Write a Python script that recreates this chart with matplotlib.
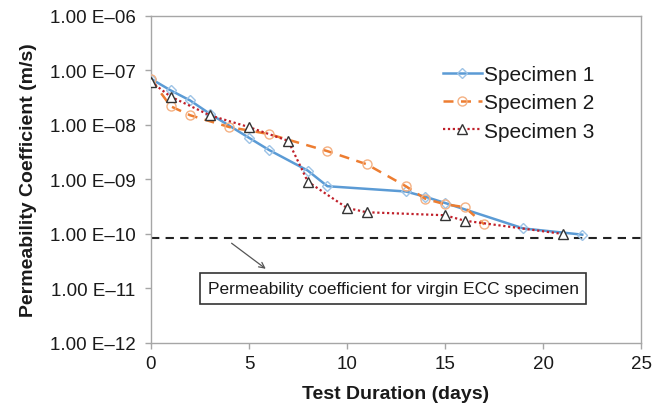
import matplotlib
matplotlib.use("Agg")
import matplotlib.pyplot as plt
from matplotlib.ticker import FuncFormatter, FixedLocator
import numpy as np

# Data
days_s1 = [0, 1, 2, 3, 5, 6, 8, 9, 13, 14, 15, 19, 22]
perm_s1 = [7.0e-8, 4.3e-8, 2.8e-8, 1.6e-8, 5.8e-9, 3.5e-9, 1.45e-9, 7.5e-10,
           6.0e-10, 4.8e-10, 3.7e-10, 1.26e-10, 9.7e-11]
days_s2 = [0, 1, 2, 4, 6, 9, 11, 13, 14, 15, 16, 17]
perm_s2 = [6.9e-8, 2.2e-8, 1.5e-8, 9.1e-9, 6.8e-9, 3.3e-9, 1.9e-9, 7.5e-10,
           4.4e-10, 3.5e-10, 3.1e-10, 1.5e-10]
days_s3 = [0, 1, 3, 5, 7, 8, 10, 11, 15, 16, 21]
perm_s3 = [6.2e-8, 3.3e-8, 1.5e-8, 9.1e-9, 5.1e-9, 9.1e-10, 3.0e-10, 2.5e-10,
           2.2e-10, 1.75e-10, 1.0e-10]
virgin_perm = 8.3e-11
series_labels = ["Specimen 1", "Specimen 2", "Specimen 3"]
annotation_text = "Permeability coefficient for virgin ECC specimen"
x_ticks = [0, 5, 10, 15, 20, 25]
y_ticks = [1e-12, 1e-11, 1e-10, 1e-9, 1e-8, 1e-7, 1e-6]

plt.rcParams['font.family'] = ['Liberation Sans', 'DejaVu Sans']

fig = plt.figure(figsize=(6.65, 4.10), dpi=100)
ax = fig.add_axes([0.227, 0.161, 0.737, 0.798])

ax.plot(days_s1, perm_s1, color='#5B9BD5', lw=1.8, ls='-', marker='D', ms=5,
        mfc='none', mec='#9DC3E6', mew=1.0, label=series_labels[0], zorder=3)
ax.plot(days_s2, perm_s2, color='#ED7D31', lw=1.8, ls=(0, (4, 3)), marker='o', ms=6.5,
        mfc='none', mec='#F4B183', mew=1.0, label=series_labels[1], zorder=3)
ax.plot(days_s3, perm_s3, color='#C0202A', lw=1.6, ls=(0, (1, 1.2)), marker='^', ms=6.5,
        mfc='white', mec='#333333', mew=1.0, label=series_labels[2], zorder=4)

ax.axhline(virgin_perm, color='#222222', lw=1.5, ls=(0, (4, 3)), zorder=2)

ax.set_yscale('log')
ax.set_xlim(0, 25)
ax.set_ylim(1e-12, 1e-6)
ax.xaxis.set_major_locator(FixedLocator(x_ticks))
ax.yaxis.set_major_locator(FixedLocator(y_ticks))
ax.yaxis.set_minor_locator(FixedLocator([]))

def fmt(v, pos):
    e = int(round(np.log10(v)))
    return "1.00 E\u2013%02d" % abs(e)
ax.yaxis.set_major_formatter(FuncFormatter(fmt))

for s in ax.spines.values():
    s.set_color('#A6A6A6')
    s.set_linewidth(1.0)
ax.tick_params(axis='both', which='major', colors='#A6A6A6', length=4, width=1.0,
               labelsize=13.5, labelcolor='#1a1a1a', direction='out')
ax.tick_params(axis='y', pad=7)
ax.tick_params(axis='x', pad=5)

ax.set_xlabel("Test Duration (days)", fontsize=14, fontweight='bold', labelpad=9,
              color='#1a1a1a')
ax.set_ylabel("Permeability Coefficient (m/s)", fontsize=14, fontweight='bold',
              labelpad=9, color='#1a1a1a')

leg = ax.legend(loc='upper left', bbox_to_anchor=(0.595, 0.85), frameon=False,
                fontsize=15, handlelength=1.9, handletextpad=0.1, labelspacing=0.45,
                borderaxespad=0, borderpad=0)
for t in leg.get_texts():
    t.set_color('#1a1a1a')

ax.annotate("", xy=(5.97, 10**-10.67), xytext=(4.0, 10**-10.14),
            arrowprops=dict(arrowstyle='->', color='#555555', lw=0.9))
ax.text(12.35, 10**-11.0, annotation_text, fontsize=12.5, ha='center', va='center',
        color='#1a1a1a',
        bbox=dict(boxstyle='square,pad=0.45', fc='white', ec='#333333', lw=1.2))

fig.savefig("out.png", dpi=100)
